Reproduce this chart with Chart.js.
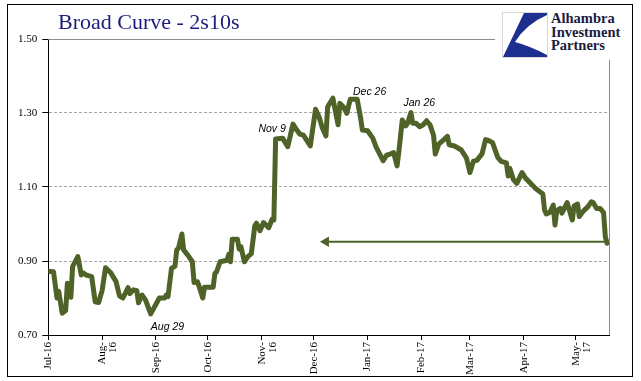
<!DOCTYPE html>
<html><head><meta charset="utf-8">
<script src="https://cdn.jsdelivr.net/npm/chart.js@4.4.1/dist/chart.umd.min.js"></script>
<style>
html,body{margin:0;padding:0;background:#fff;}
#wrap{position:relative;width:641px;height:381px;overflow:hidden;background:#fff;}
canvas{position:absolute;left:0;top:0;}
#frame{position:absolute;left:7px;top:4px;width:626px;height:373px;border:1px solid #000;box-sizing:border-box;pointer-events:none;}
#title{position:absolute;left:58px;top:10px;font-family:"Liberation Serif",serif;font-size:22px;line-height:24px;color:#1c1c7c;white-space:nowrap;}
#logo{position:absolute;left:495px;top:6px;width:134px;height:54px;background:#fff;}
#logo svg{position:absolute;left:7px;top:6px;}
#logotext{position:absolute;left:56px;top:6px;font-family:"Liberation Serif",serif;font-weight:bold;font-size:14.5px;line-height:13.5px;color:#1b1b40;white-space:nowrap;}
</style></head>
<body>
<div id="wrap">
<canvas id="c" width="641" height="381"></canvas>
<div id="title">Broad Curve - 2s10s</div>
<div id="logo"><svg width="46" height="46" viewBox="0 0 46 46"><rect x="0.5" y="0.5" width="45" height="45" fill="#fff" stroke="#d8d8d8"/><path d="M22,1 L45,1 L45,3 Q24,12 13,30 Q28,34 45,43 L45,45 L1,45 Z" fill="#1d2f8f"/></svg><div id="logotext">Alhambra<br>Investment<br>Partners</div></div>
<div id="frame"></div>
</div>
<script>
// Days counted from 1 Jul 2016
const days = [0,3,5,6,8,10,11,13,14,17,19,20,22,25,27,29,31,33,36,39,41,43,46,47,49,51,52,54,56,59,
  64,67,68,69,71,73,74,75,77,78,81,83,84,86,87,89,90,95,96,97,99,103,104,105,106,109,110,111,113,115,117,119,120,122,124,127,129,130,
  131,135,138,141,143,145,147,151,154,156,158,160,161,164,167,168,170,172,174,178,180,181,184,187,189,193,195,197,199,201,202,
  204,206,207,209,210,212,214,216,218,220,222,223,225,228,230,231,234,238,241,243,245,247,250,252,254,256,259,261,264,265,266,268,270,
  273,275,279,281,285,286,287,289,291,292,293,295,296,299,300,302,303,305,306,308,311,313,314,316,318,320,321,322];
const spread = [0.872,0.871,0.800,0.818,0.759,0.766,0.840,0.802,0.885,0.912,0.862,0.868,0.862,0.858,0.790,0.788,0.820,0.882,0.868,0.845,0.806,0.800,0.828,0.812,0.822,0.820,0.787,0.808,0.795,0.757,
  0.800,0.800,0.808,0.804,0.880,0.886,0.930,0.934,0.973,0.930,0.912,0.898,0.842,0.844,0.830,0.800,0.829,0.829,0.866,0.871,0.898,0.902,0.918,0.898,0.959,0.959,0.932,0.939,0.898,0.912,0.920,0.995,1.002,0.982,1.004,0.990,1.013,1.011,
  1.230,1.232,1.209,1.270,1.255,1.243,1.240,1.211,1.310,1.290,1.259,1.238,1.317,1.340,1.268,1.326,1.317,1.299,1.337,1.337,1.286,1.254,1.252,1.232,1.207,1.171,1.186,1.189,1.193,1.157,1.195,
  1.281,1.265,1.272,1.301,1.272,1.272,1.263,1.268,1.279,1.268,1.240,1.189,1.216,1.228,1.237,1.214,1.211,1.200,1.178,1.139,1.170,1.172,1.190,1.228,1.225,1.220,1.180,1.169,1.165,1.130,1.150,1.120,1.110,
  1.139,1.124,1.105,1.095,1.081,1.038,1.027,1.031,1.051,0.997,1.036,1.042,1.029,1.058,1.042,1.011,1.049,1.054,1.020,1.033,1.047,1.060,1.058,1.042,1.042,1.031,0.966,0.948];

const monthDays = [0,31,62,92,123,153,184,215,243,274,304];
const monthLabels = ['Jul-16',['Aug-','16'],'Sep-16','Oct-16',['Nov-','16'],'Dec-16','Jan-17','Feb-17','Mar-17','Apr-17',['May-','17']];
const yTicks = [0.70,0.90,1.10,1.30,1.50];

const arrowLevel = 0.952;
const arrowFromDay = 160;
const arrowToDay = 322;

const noteLabels = ['Aug 29','Nov 9','Dec 26','Jan 26'];
const noteDays = [68.7,129,185.2,213.8];
const noteValues = [0.722,1.2555,1.3567,1.328];

const olive = '#4f6228';

const framePlugin = {
  id:'frame',
  beforeDatasetsDraw(chart){
    const {ctx, chartArea:a} = chart;
    ctx.save();
    ctx.strokeStyle = '#8c8c8c'; ctx.lineWidth = 1;
    ctx.beginPath();
    ctx.moveTo(a.left, Math.round(a.top)+0.5); ctx.lineTo(a.right, Math.round(a.top)+0.5);
    ctx.moveTo(Math.round(a.right)+0.5, a.top); ctx.lineTo(Math.round(a.right)+0.5, a.bottom);
    ctx.stroke();
    ctx.restore();
  }
};
const notesPlugin = {
  id:'notes',
  afterDatasetsDraw(chart){
    const {ctx, scales:{x,y}} = chart;
    ctx.save();
    ctx.font = 'italic 10.5px "Liberation Sans", Arial, sans-serif';
    ctx.fillStyle = '#000';
    ctx.textAlign = 'center'; ctx.textBaseline = 'middle';
    noteLabels.forEach((t,i)=>ctx.fillText(t, x.getPixelForValue(noteDays[i]), y.getPixelForValue(noteValues[i])));
    ctx.restore();
  }
};

new Chart(document.getElementById('c'), {
  type:'line',
  data:{
    datasets:[
      {data: days.map((d,i)=>({x:d, y:spread[i]})), borderColor: olive, borderWidth:5, pointRadius:0, tension:0,
       borderJoinStyle:'round', borderCapStyle:'round', order:1},
      {data:[{x:arrowFromDay,y:arrowLevel},{x:arrowToDay,y:arrowLevel}], borderColor: olive, borderWidth:2,
       pointRadius:[6,0], pointStyle:'triangle', rotation:-90, pointBackgroundColor: olive, pointBorderWidth:0, order:2}
    ]
  },
  options:{
    responsive:false, animation:false, devicePixelRatio:1,
    layout:{padding:{left:0, top:39, right:31.7, bottom:0}},
    plugins:{legend:{display:false}, tooltip:{enabled:false}, title:{display:false}},
    scales:{
      x:{type:'linear', min:0, max:323.3,
        afterBuildTicks(s){ s.ticks = monthDays.map(v=>({value:v})); },
        afterFit(s){ s.height = 46; },
        ticks:{autoSkip:false, minRotation:90, maxRotation:90, padding:2, color:'#000',
          font:{family:'"Liberation Serif", serif', size:11, lineHeight:1.0},
          callback:(v,i)=>monthLabels[i]},
        grid:{display:true, drawOnChartArea:false, drawTicks:true, tickLength:5, tickColor:'#000'},
        border:{display:true, color:'#000', width:1}
      },
      y:{min:0.7, max:1.5,
        afterBuildTicks(s){ s.ticks = yTicks.map(v=>({value:v})); },
        afterFit(s){ s.width = 48.3; },
        ticks:{padding:5, color:'#000', font:{family:'"Liberation Serif", serif', size:11},
          callback:v=>v.toFixed(2)},
        grid:{color:'#a6a6a6', lineWidth:1, drawTicks:true, tickLength:6, tickColor:'#000', tickBorderDash:[]},
        border:{display:true, color:'#000', width:1, dash:[3,2]}
      }
    }
  },
  plugins:[framePlugin, notesPlugin]
});
</script>
</body></html>
